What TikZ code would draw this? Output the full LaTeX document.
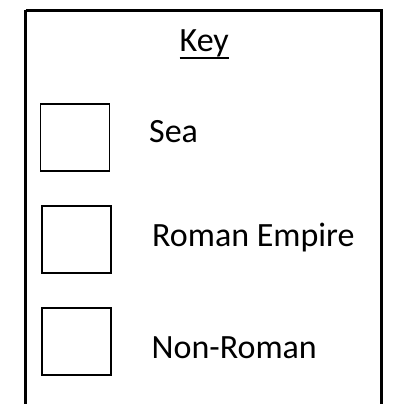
\documentclass[tikz,border=0pt]{standalone}
\usepackage{fontspec}
\setmainfont{Carlito}
\begin{document}
\begin{tikzpicture}[x=1pt,y=-1pt,
  swatch/.style={draw=black,line width=1.6pt,minimum width=69pt,minimum height=67pt,inner sep=0pt,anchor=north west},
  label/.style={inner sep=0pt,anchor=base west,font=\fontsize{34}{40}\selectfont}]
\useasboundingbox (0,0) rectangle (392,404);
\clip (0,0) rectangle (392,404);
\fill[white] (0,0) rectangle (392,404);
\draw[line width=2.8pt] (25.5,10.3) -- (381.5,10.3) -- (381.5,430) (25.5,10.3) -- (25.5,430);
\node[label] (key) at (179.5,51.7) {Key};
\draw[line width=2pt] (key.base west) ++(0,6.3) coordinate (ul1) -- (ul1 -| key.base east);
\node[swatch] (s1) at (39.5,103) {};
\node[swatch] (s2) at (41,205) {};
\node[swatch] (s3) at (41,307) {};
\node[label] (t1) at (149,142.7) {Sea};
\node[label] (t2) at (152,246.7) {Roman Empire};
\node[label] (t3) at (151.5,358.3) {Non-Roman};
\end{tikzpicture}
\end{document}
